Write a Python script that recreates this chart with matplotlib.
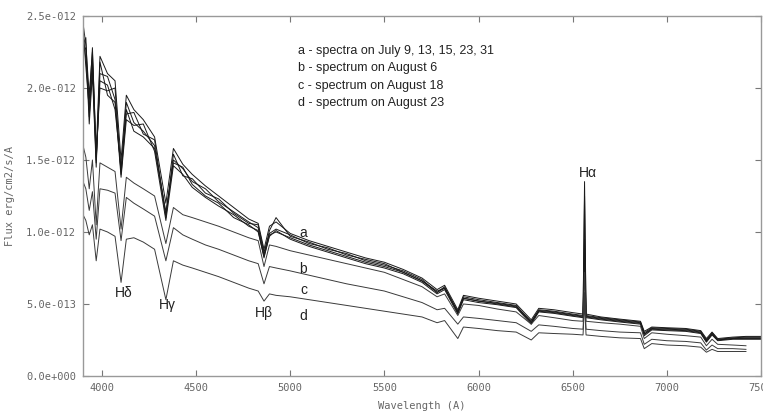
import numpy as np
import matplotlib.pyplot as plt

# wavelength grid (Angstrom) shared by all spectra
wave = [3900, 3915, 3933, 3950, 3970, 3990, 4030, 4070, 4102, 4130,
        4170, 4220, 4280, 4340, 4380, 4430, 4480, 4550, 4620, 4700,
        4780, 4830, 4861, 4890, 4925, 5000, 5100, 5200, 5300, 5400,
        5500, 5600, 5700, 5780, 5820, 5890, 5920, 6000, 6100, 6200,
        6280, 6320, 6400, 6500, 6555, 6563, 6571, 6650, 6750, 6860,
        6880, 6920, 7000, 7100, 7180, 7210, 7240, 7270, 7350, 7420,
        7500]

# flux in units of 1e-12 erg/cm2/s/A
# a - spectra on July 9, 13, 15, 23, 31
a1 = [2.45, 2.3, 1.95, 2.25, 1.55, 2.22, 2.1, 2.05, 1.5, 1.95,
      1.85, 1.78, 1.66, 1.2, 1.58, 1.47, 1.4, 1.32, 1.25, 1.17,
      1.09, 1.06, 0.88, 1.04, 1.07, 0.99, 0.94, 0.9, 0.86, 0.82,
      0.79, 0.74, 0.68, 0.6, 0.63, 0.46, 0.56, 0.54, 0.52, 0.5,
      0.39, 0.47, 0.46, 0.44, 0.43, 1.35, 0.43, 0.41, 0.395, 0.38,
      0.31, 0.34, 0.335, 0.33, 0.315, 0.26, 0.305, 0.26, 0.27, 0.275,
      0.275]
a2 = [2.3, 2.35, 1.8, 2.15, 1.48, 2.1, 2.08, 1.92, 1.42, 1.9,
      1.76, 1.7, 1.6, 1.12, 1.5, 1.44, 1.35, 1.3, 1.21, 1.14,
      1.07, 1.03, 0.84, 1.01, 1.1, 0.97, 0.93, 0.88, 0.85, 0.8,
      0.77, 0.73, 0.67, 0.58, 0.62, 0.44, 0.55, 0.53, 0.51, 0.49,
      0.37, 0.46, 0.45, 0.43, 0.42, 1.25, 0.42, 0.405, 0.39, 0.375,
      0.3, 0.335, 0.33, 0.325, 0.31, 0.25, 0.3, 0.255, 0.265, 0.27,
      0.27]
a3 = [2.38, 2.2, 1.9, 2.28, 1.52, 2.0, 1.98, 2.0, 1.4, 1.82,
      1.83, 1.68, 1.64, 1.1, 1.54, 1.39, 1.37, 1.27, 1.23, 1.13,
      1.06, 1.05, 0.86, 0.99, 1.02, 0.98, 0.92, 0.89, 0.84, 0.81,
      0.78, 0.72, 0.66, 0.59, 0.61, 0.45, 0.54, 0.52, 0.505, 0.485,
      0.38, 0.455, 0.445, 0.425, 0.415, 0.95, 0.415, 0.4, 0.385, 0.37,
      0.29, 0.33, 0.325, 0.32, 0.305, 0.245, 0.295, 0.25, 0.26, 0.265,
      0.265]
a4 = [2.25, 2.28, 1.75, 2.1, 1.45, 2.18, 1.95, 1.9, 1.38, 1.78,
      1.74, 1.75, 1.56, 1.08, 1.46, 1.4, 1.31, 1.24, 1.18, 1.12,
      1.04, 1.01, 0.82, 0.98, 1.0, 0.96, 0.91, 0.87, 0.83, 0.79,
      0.76, 0.72, 0.66, 0.58, 0.61, 0.44, 0.54, 0.52, 0.5, 0.48,
      0.37, 0.45, 0.44, 0.42, 0.41, 0.88, 0.41, 0.395, 0.38, 0.365,
      0.29, 0.325, 0.32, 0.315, 0.3, 0.24, 0.29, 0.25, 0.26, 0.26,
      0.26]
a5 = [2.4, 2.15, 1.85, 2.2, 1.5, 2.05, 2.02, 1.85, 1.44, 1.85,
      1.7, 1.66, 1.58, 1.14, 1.48, 1.45, 1.33, 1.25, 1.2, 1.1,
      1.05, 1.0, 0.83, 0.97, 1.01, 0.95, 0.9, 0.86, 0.82, 0.78,
      0.75, 0.71, 0.65, 0.57, 0.6, 0.43, 0.53, 0.51, 0.495, 0.475,
      0.36, 0.445, 0.435, 0.415, 0.405, 0.8, 0.405, 0.39, 0.375, 0.36,
      0.28, 0.32, 0.315, 0.31, 0.295, 0.235, 0.285, 0.245, 0.255, 0.255,
      0.255]
# b - August 6
b = [1.6, 1.52, 1.3, 1.5, 1.05, 1.48, 1.45, 1.42, 1.02, 1.38,
     1.34, 1.3, 1.25, 0.92, 1.17, 1.12, 1.1, 1.07, 1.04, 1.0,
     0.96, 0.94, 0.76, 0.91, 0.9, 0.87, 0.84, 0.81, 0.78, 0.75,
     0.72, 0.67, 0.62, 0.55, 0.57, 0.42, 0.5, 0.49, 0.465, 0.445,
     0.36, 0.42, 0.405, 0.385, 0.38, 0.72, 0.38, 0.37, 0.36, 0.345,
     0.26, 0.3, 0.29, 0.28, 0.27, 0.21, 0.255, 0.22, 0.215, 0.21,
     np.nan]
# c - August 18
c = [1.35, 1.3, 1.15, 1.28, 0.95, 1.3, 1.29, 1.27, 0.94, 1.24,
     1.2, 1.16, 1.11, 0.8, 1.03, 0.98, 0.95, 0.91, 0.88, 0.84,
     0.8, 0.78, 0.64, 0.76, 0.75, 0.73, 0.7, 0.67, 0.64, 0.615,
     0.59, 0.55, 0.51, 0.46, 0.47, 0.36, 0.41, 0.4, 0.385, 0.37,
     0.31, 0.355, 0.345, 0.33, 0.325, 0.58, 0.325, 0.315, 0.305, 0.3,
     0.22, 0.255, 0.245, 0.24, 0.23, 0.18, 0.215, 0.19, 0.19, 0.185,
     np.nan]
# d - August 23
d = [1.12, 1.08, 0.98, 1.05, 0.8, 1.02, 1.0, 0.97, 0.65, 0.95,
     0.96, 0.93, 0.88, 0.53, 0.8, 0.77, 0.75, 0.72, 0.69, 0.65,
     0.61, 0.59, 0.52, 0.57, 0.56, 0.55, 0.53, 0.51, 0.49, 0.47,
     0.45, 0.43, 0.41, 0.37, 0.385, 0.26, 0.34, 0.33, 0.315, 0.305,
     0.25, 0.3, 0.295, 0.29, 0.285, 0.5, 0.285, 0.275, 0.265, 0.26,
     0.19, 0.225, 0.215, 0.21, 0.2, 0.165, 0.185, 0.17, 0.17, 0.17,
     np.nan]

yticks = [0, 0.5, 1.0, 1.5, 2.0, 2.5]
ytick_labels = ["0.0e+000", "5.0e-013", "1.0e-012", "1.5e-012", "2.0e-012", "2.5e-012"]
xticks = [4000, 4500, 5000, 5500, 6000, 6500, 7000, 7500]

legend_lines = ["a - spectra on July 9, 13, 15, 23, 31",
                "b - spectrum on August 6",
                "c - spectrum on August 18",
                "d - spectrum on August 23"]

fig = plt.figure(figsize=(7.63, 4.12), dpi=100)
ax = fig.add_axes([0.1088, 0.0874, 0.8886, 0.8738])

for f in [a1, a2, a3, a4, a5]:
    ax.plot(wave, f, color="#1a1a1a", lw=0.7)
for f in [b, c, d]:
    ax.plot(wave, f, color="#3a3a3a", lw=0.7)

ax.set_xlim(3900, 7500)
ax.set_ylim(0, 2.5)
ax.set_xticks(xticks)
ax.set_xticklabels([str(t) for t in xticks])
ax.set_yticks(yticks)
ax.set_yticklabels(ytick_labels)

mono = "DejaVu Sans Mono"
for lab in ax.get_xticklabels() + ax.get_yticklabels():
    lab.set_fontfamily(mono)
ax.tick_params(direction="in", length=4, width=0.8, color="#777777",
               labelsize=7.5, labelcolor="#666666", top=True, right=True, pad=5)
for s in ax.spines.values():
    s.set_color("#999999")
    s.set_linewidth(1.0)

ax.set_xlabel("Wavelength (A)", family=mono, fontsize=7.5, color="#666666", labelpad=6)
ax.set_ylabel("Flux erg/cm2/s/A", family=mono, fontsize=7.5, color="#666666", labelpad=8)

sans = "Liberation Sans"
for i, t in enumerate(legend_lines):
    ax.text(5041, 2.257 - i * 0.121, t, family=sans, fontsize=9, color="#222222",
            ha="left", va="center")

line_labels = [("H\u03b4", 4118, 0.576), ("H\u03b3", 4348, 0.49),
               ("H\u03b2", 4860, 0.44), ("H\u03b1", 6581, 1.41),
               ("a", 5067, 0.99), ("b", 5067, 0.74),
               ("c", 5072, 0.6), ("d", 5072, 0.42)]
for t, x, y in line_labels:
    ax.text(x, y, t, family=sans, fontsize=10, color="#222222", ha="center", va="center")

fig.savefig("out.png", dpi=100)
